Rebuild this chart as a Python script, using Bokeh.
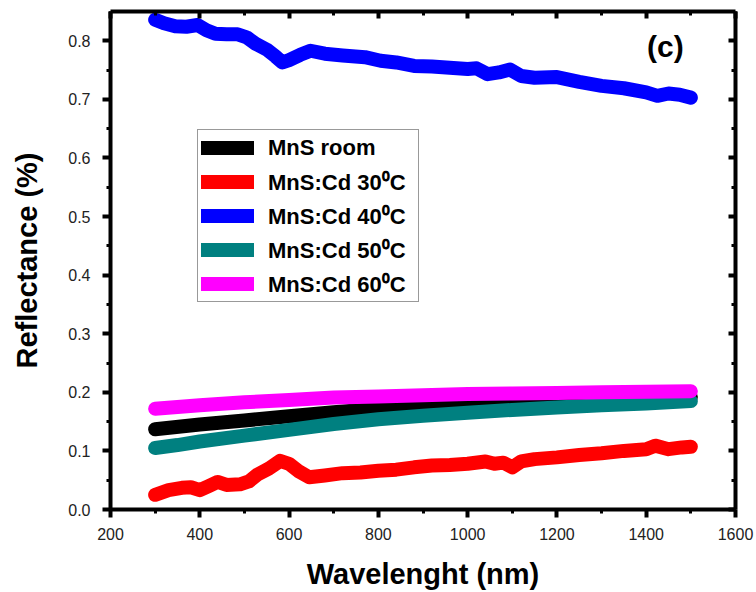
from bokeh.plotting import figure
from bokeh.models import (LinearAxis, SingleIntervalTicker, Range1d, Legend, LegendItem,
                          Label, PrintfTickFormatter)
from bokeh.embed import file_html
from bokeh.resources import INLINE

# ---------------- data ----------------
wl_room = [300, 400, 500, 600, 700, 800, 900, 1000, 1100, 1200, 1300, 1400, 1500]
r_room = [0.137, 0.145, 0.152, 0.159, 0.166, 0.172, 0.177, 0.181, 0.184, 0.186, 0.188, 0.190, 0.192]

wl_30 = [300, 330, 360, 380, 400, 420, 440, 460, 490, 510, 530, 555, 580, 600, 620, 645,
         680, 720, 760, 800, 840, 880, 920, 960, 1000, 1040, 1060, 1080, 1100, 1120, 1150,
         1200, 1250, 1300, 1350, 1400, 1420, 1450, 1480, 1500]
r_30 = [0.025, 0.033, 0.037, 0.038, 0.033, 0.040, 0.047, 0.042, 0.043, 0.048, 0.060, 0.070,
        0.083, 0.078, 0.066, 0.055, 0.058, 0.062, 0.063, 0.066, 0.068, 0.072, 0.075, 0.076,
        0.078, 0.082, 0.078, 0.080, 0.072, 0.082, 0.086, 0.089, 0.093, 0.096, 0.100, 0.103,
        0.109, 0.103, 0.106, 0.107]

wl_40 = [300, 320, 345, 370, 395, 415, 435, 460, 485, 505, 525, 550, 570, 585, 600, 625,
         648, 680, 720, 770, 805, 840, 880, 920, 960, 1000, 1020, 1045, 1070, 1095, 1120,
         1150, 1200, 1250, 1300, 1350, 1400, 1425, 1450, 1475, 1500]
r_40 = [0.836, 0.830, 0.825, 0.824, 0.827, 0.818, 0.812, 0.811, 0.811, 0.806, 0.795, 0.785,
        0.773, 0.763, 0.767, 0.776, 0.783, 0.778, 0.775, 0.772, 0.766, 0.763, 0.757, 0.756,
        0.754, 0.752, 0.753, 0.743, 0.746, 0.751, 0.740, 0.737, 0.738, 0.730, 0.723, 0.719,
        0.712, 0.706, 0.710, 0.708, 0.703]

wl_50 = [300, 350, 400, 500, 600, 700, 800, 900, 1000, 1100, 1200, 1300, 1400, 1500]
r_50 = [0.105, 0.110, 0.116, 0.126, 0.136, 0.146, 0.154, 0.160, 0.165, 0.170, 0.174, 0.178,
        0.181, 0.185]

wl_60 = [300, 400, 500, 600, 700, 800, 900, 1000, 1100, 1200, 1300, 1400, 1500]
r_60 = [0.172, 0.178, 0.183, 0.187, 0.191, 0.193, 0.195, 0.197, 0.198, 0.199, 0.200, 0.201, 0.202]

series_names = ["MnS room", "MnS:Cd 30\u2070C", "MnS:Cd 40\u2070C", "MnS:Cd 50\u2070C", "MnS:Cd 60\u2070C"]
series_colors = ["#000000", "#ff0000", "#0000ff", "#008080", "#ff00ff"]

x_ticks_interval = 200
y_ticks_interval = 0.1
x_label = "Wavelenght (nm)"
y_label = "Reflectance (%)"
panel_tag = "(c)"

FONT = "Liberation Sans"

p = figure(width=756, height=592, x_range=Range1d(200, 1600), y_range=Range1d(0, 0.85),
           output_backend="svg", toolbar_location=None,
           min_border_left=110, min_border_right=21, min_border_top=11, min_border_bottom=82)
p.xgrid.visible = False
p.ygrid.visible = False
p.outline_line_color = None
p.background_fill_color = "white"
p.border_fill_color = "white"

xaxis = p.below[0]
yaxis = p.left[0]
xaxis.ticker = SingleIntervalTicker(interval=x_ticks_interval, num_minor_ticks=2)
yaxis.ticker = SingleIntervalTicker(interval=y_ticks_interval, num_minor_ticks=2)
yaxis.formatter = PrintfTickFormatter(format="%.1f")

for ax in (xaxis, yaxis):
    ax.axis_line_width = 4
    ax.axis_line_color = "black"
    ax.major_tick_line_width = 4
    ax.minor_tick_line_width = 3
    ax.major_tick_line_color = "black"
    ax.minor_tick_line_color = "black"
    ax.major_tick_out = 8
    ax.major_tick_in = 0
    ax.minor_tick_out = 4
    ax.minor_tick_in = 0
    ax.major_label_text_font = FONT
    ax.major_label_text_font_size = "16px"
    ax.major_label_text_color = "#222222"
    ax.axis_label_text_font = FONT
    ax.axis_label_text_font_size = "29px"
    ax.axis_label_text_font_style = "bold"
    ax.axis_label_text_color = "black"

xaxis.axis_label = x_label
yaxis.axis_label = y_label
xaxis.major_label_standoff = 10
yaxis.major_label_standoff = 12
xaxis.axis_label_standoff = 15
yaxis.axis_label_standoff = 22

# mirrored axes (top / right) with inward ticks, labels not drawn
for loc, interval in (("above", x_ticks_interval), ("right", y_ticks_interval)):
    ax = LinearAxis(ticker=SingleIntervalTicker(interval=interval, num_minor_ticks=2))
    ax.axis_line_width = 4
    ax.axis_line_color = "black"
    ax.major_tick_line_width = 4
    ax.minor_tick_line_width = 3
    ax.major_tick_out = 0
    ax.major_tick_in = 7
    ax.minor_tick_out = 0
    ax.minor_tick_in = 4
    ax.major_label_text_font_size = "1px"
    ax.major_label_text_color = None
    ax.major_label_text_alpha = 0
    ax.major_label_standoff = 0
    ax.axis_label = None
    p.add_layout(ax, loc)

xs = [wl_room, wl_30, wl_40, wl_50, wl_60]
ys = [r_room, r_30, r_40, r_50, r_60]
renderers = {}
# draw order: black, red, blue, teal, magenta (magenta on top)
for i in range(5):
    r = p.line(xs[i], ys[i], line_color=series_colors[i], line_width=14,
               line_cap="round", line_join="round")
    renderers[i] = r

legend = Legend(items=[LegendItem(label=series_names[i], renderers=[renderers[i]]) for i in range(5)],
                location=(87, 207))
legend.label_text_font = FONT
legend.label_text_font_size = "22px"
legend.label_text_font_style = "bold"
legend.label_text_color = "black"
legend.label_height = 29
legend.label_width = 147
legend.glyph_height = 29
legend.glyph_width = 53
legend.label_standoff = 14
legend.padding = 3
legend.spacing = 4
legend.margin = 0
legend.border_line_color = "#333333"
legend.border_line_width = 1.5
legend.background_fill_color = "white"
legend.background_fill_alpha = 1.0
p.add_layout(legend)

tag = Label(x=1443, y=0.79, text=panel_tag, text_align="center", text_baseline="middle",
            text_font=FONT, text_font_size="30px", text_font_style="bold", text_color="black")
p.add_layout(tag)

open("out.html", "w").write(file_html(p, INLINE))
